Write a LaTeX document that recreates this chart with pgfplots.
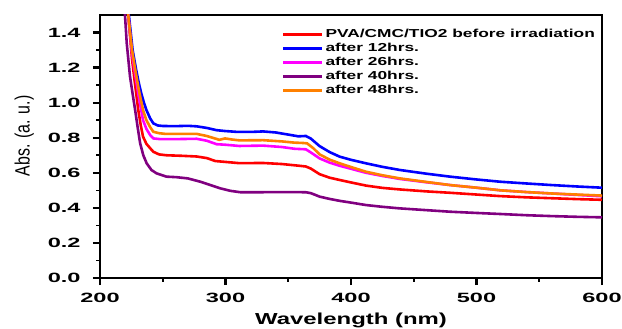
\documentclass[border=0pt]{standalone}
\usepackage{fontspec}
\setmainfont{Liberation Sans}[FakeStretch=1.5]
\newfontfamily\tickfont{Liberation Sans}[FakeStretch=1.75]
\newfontfamily\ylabfont{Liberation Sans}
\usepackage{pgfplots}
\pgfplotsset{compat=1.18}
\usepackage{pgfplotstable}
\definecolor{cred}{RGB}{255,0,0}
\definecolor{cblue}{RGB}{0,0,255}
\definecolor{cmag}{RGB}{255,0,255}
\definecolor{cpur}{RGB}{128,0,128}
\definecolor{corg}{RGB}{255,128,0}

\pgfplotstableread{
x y
219.5 1.68
222.5 1.50
225.5 1.25
228 1.10
230.5 0.958
232.5 0.87
234.3 0.806
237 0.765
240 0.74
242.5 0.72
247 0.705
253 0.70
265 0.697
277 0.693
285 0.684
292 0.667
300 0.662
311 0.655
330 0.656
345 0.650
359 0.640
364 0.636
368 0.624
375 0.592
383 0.572
391 0.559
400 0.545
412 0.527
425 0.514
439 0.505
460 0.494
479 0.486
500 0.476
519 0.467
540 0.460
560 0.455
580 0.450
600 0.446
}\tred

\pgfplotstableread{
x y
220 1.68
223 1.50
226 1.30
229 1.18
231 1.11
233 1.05
235 1.00
237 0.958
240 0.91
242.5 0.882
246 0.870
250 0.867
260 0.866
270 0.868
277 0.865
285 0.856
293 0.843
300 0.838
310 0.833
320 0.833
330 0.836
340 0.830
350 0.818
358 0.808
364 0.810
368 0.795
375 0.752
383 0.718
391 0.692
400 0.674
412 0.654
425 0.634
439 0.616
460 0.595
479 0.578
500 0.562
519 0.549
540 0.539
560 0.530
580 0.522
600 0.515
}\tblue

\pgfplotstableread{
x y
219.5 1.68
222.5 1.50
225.5 1.28
228.5 1.14
231 1.03
234.3 0.90
237 0.85
240 0.815
242.5 0.796
248 0.792
260 0.792
277 0.794
285 0.783
293 0.763
300 0.760
311 0.753
330 0.755
345 0.747
355 0.737
364 0.734
368 0.716
375 0.682
383 0.658
391 0.640
400 0.623
412 0.600
425 0.582
439 0.565
460 0.546
479 0.530
500 0.515
519 0.500
540 0.490
560 0.482
580 0.474
600 0.466
}\tmag

\pgfplotstableread{
x y
218 1.68
219.9 1.50
221.3 1.34
223.9 1.15
226 1.05
228 0.958
230 0.86
232 0.768
234.5 0.70
237.2 0.654
241 0.616
245 0.597
253 0.578
261 0.575
270 0.568
280 0.549
288 0.530
296 0.511
304 0.497
312 0.489
325 0.489
340 0.490
355 0.490
364 0.489
368 0.484
375 0.464
383 0.451
391 0.440
400 0.430
412 0.416
425 0.406
439 0.397
460 0.387
479 0.378
500 0.371
519 0.365
540 0.358
560 0.353
580 0.349
600 0.346
}\tpur

\pgfplotstableread{
x y
219.5 1.68
222.5 1.50
225.5 1.30
228.5 1.17
231 1.07
234.3 0.958
237 0.90
240 0.86
242.5 0.834
247 0.826
252 0.822
265 0.822
277 0.822
285 0.810
292 0.795
295 0.788
299.7 0.796
305 0.790
311 0.785
330 0.786
345 0.779
355 0.772
362 0.770
365 0.768
370 0.740
375 0.705
383 0.675
391 0.654
400 0.633
412 0.606
425 0.586
439 0.568
460 0.548
479 0.530
500 0.515
519 0.500
540 0.490
560 0.482
580 0.476
600 0.470
}\torg

\begin{document}
\begin{tikzpicture}
\begin{axis}[
  at={(0,0)}, anchor=south west,
  scale only axis,
  width=502bp, height=263bp,
  xmin=200, xmax=600, ymin=0, ymax=1.5,
  xtick={200,300,400,500,600},
  ytick={0,0.2,0.4,0.6,0.8,1.0,1.2,1.4},
  minor x tick num=1, minor y tick num=1,
  tick pos=left,
  tick align=outside,
  axis line style={line width=2.4bp},
  major tick length=7bp, minor tick length=3.5bp,
  every major tick/.style={line width=2.2bp, black},
  every minor tick/.style={line width=1.6bp, black},
  /pgf/number format/assume math mode=true,
  ticklabel style={font=\tickfont\bfseries\fontsize{13.5}{14}\selectfont},
  yticklabel style={/pgf/number format/.cd, fixed, fixed zerofill, precision=1, /tikz/.cd, xshift=-9bp},
  xticklabel style={/pgf/number format/.cd, fixed, precision=0, 1000 sep={}, /tikz/.cd, yshift=-5bp},
  xlabel={\bfseries Wavelength (nm)},
  xlabel style={font=\fontsize{16}{18}\selectfont, at={(rel axis cs:0.5,-0.175)}, anchor=base},
  ylabel={Abs. (a. u.)},
  ylabel style={font=\ylabfont\fontsize{16}{18}\selectfont, at={(rel axis cs:-0.151,0.54)}, anchor=center, yscale=1.3},
  legend cell align=left,
  legend image code/.code={\draw[#1, line width=3bp] (0bp,0bp) -- (39bp,0bp);},
  legend style={draw=none, fill=none, at={(rel axis cs:0.362,0.953)}, anchor=north west,
    inner sep=0pt, font=\bfseries\fontsize{11.6}{12}\selectfont,
    nodes={inner sep=1.6bp, text height=8.6bp, text depth=2.2bp}},
  every axis plot/.append style={line width=2.6bp},
]
\addplot[cred, no marks] table[x=x,y=y] {\tred};
\addlegendentry{PVA/CMC/TIO2 before irradiation}
\addplot[cblue, no marks] table[x=x,y=y] {\tblue};
\addlegendentry{after 12hrs.}
\addplot[cmag, no marks] table[x=x,y=y] {\tmag};
\addlegendentry{after 26hrs.}
\addplot[cpur, no marks] table[x=x,y=y] {\tpur};
\addlegendentry{after 40hrs.}
\addplot[corg, no marks] table[x=x,y=y] {\torg};
\addlegendentry{after 48hrs.}
\end{axis}
\pgfresetboundingbox
\path (-100bp,-51bp) rectangle (522bp,278bp);
\end{tikzpicture}
\end{document}
